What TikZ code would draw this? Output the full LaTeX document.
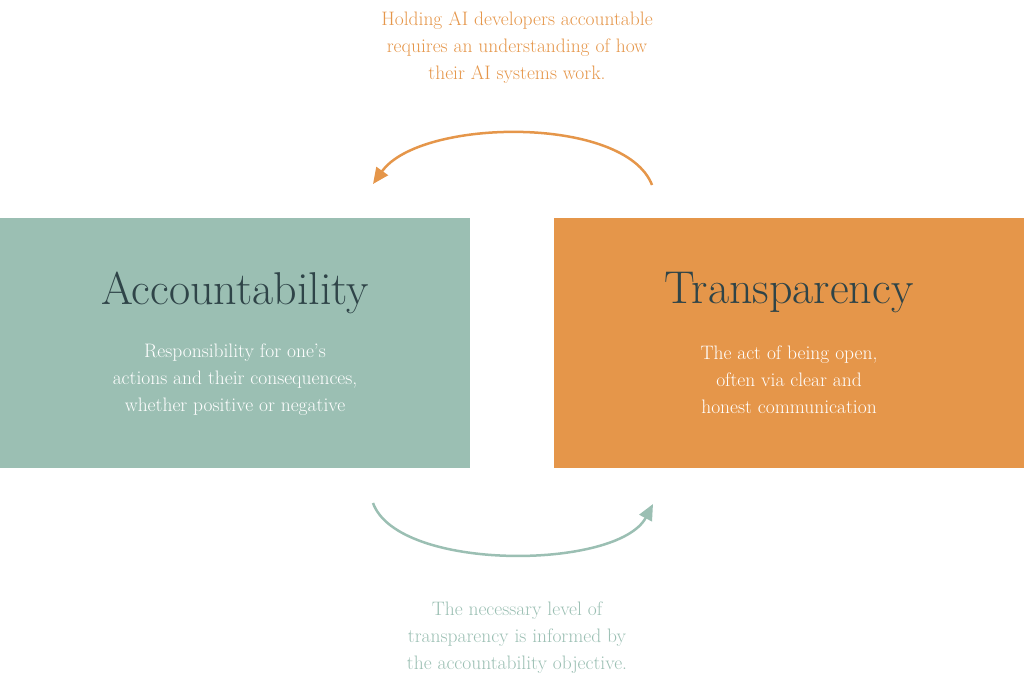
\documentclass[tikz,border=0pt]{standalone}
\usetikzlibrary{arrows.meta}
\definecolor{teal}{HTML}{9BBFB3}
\definecolor{orng}{HTML}{E5964A}
\definecolor{dark}{HTML}{2F4448}
\begin{document}
\begin{tikzpicture}[x=1pt,y=-1pt,
  box/.style={draw=none,minimum width=470pt,minimum height=250pt,anchor=north west,inner sep=0},
  title/.style={text=dark,font=\fontsize{46}{50}\selectfont},
  sub/.style={text=white,align=center,font=\fontsize{19.5}{27}\selectfont},
  note/.style={align=center,font=\fontsize{19.5}{27}\selectfont},
  arr/.style={line width=2.5pt,-{Triangle[length=16pt,width=14pt]}}]
\useasboundingbox (0,0) rectangle (1024,693);
\node[box,fill=teal] (acc) at (0,218) {};
\node[box,fill=orng] (tra) at (554,218) {};
\node[title] (acct) at (235,293) {Accountability};
\node[title] (trat) at (789,293) {Transparency};
\node[sub] (accs) at (235,380) {Responsibility for one’s\\actions and their consequences,\\whether positive or negative};
\node[sub] (tras) at (789,380) {The act of being open,\\often via clear and\\honest communication};
\node[note,text=orng] (top) at (517,48) {Holding AI developers accountable\\requires an understanding of how\\their AI systems work.};
\node[note,text=teal] (bot) at (517,638) {The necessary level of\\transparency is informed by\\the accountability objective.};
\coordinate (a1) at (652,185); \coordinate (a2) at (373,184);
\coordinate (b1) at (373,503); \coordinate (b2) at (653,504);
\draw[arr,orng] (a1) .. controls (625,115) and (420,118) .. (a2);
\draw[arr,teal] (b1) .. controls (398,572) and (618,570) .. (b2);
\end{tikzpicture}
\end{document}
